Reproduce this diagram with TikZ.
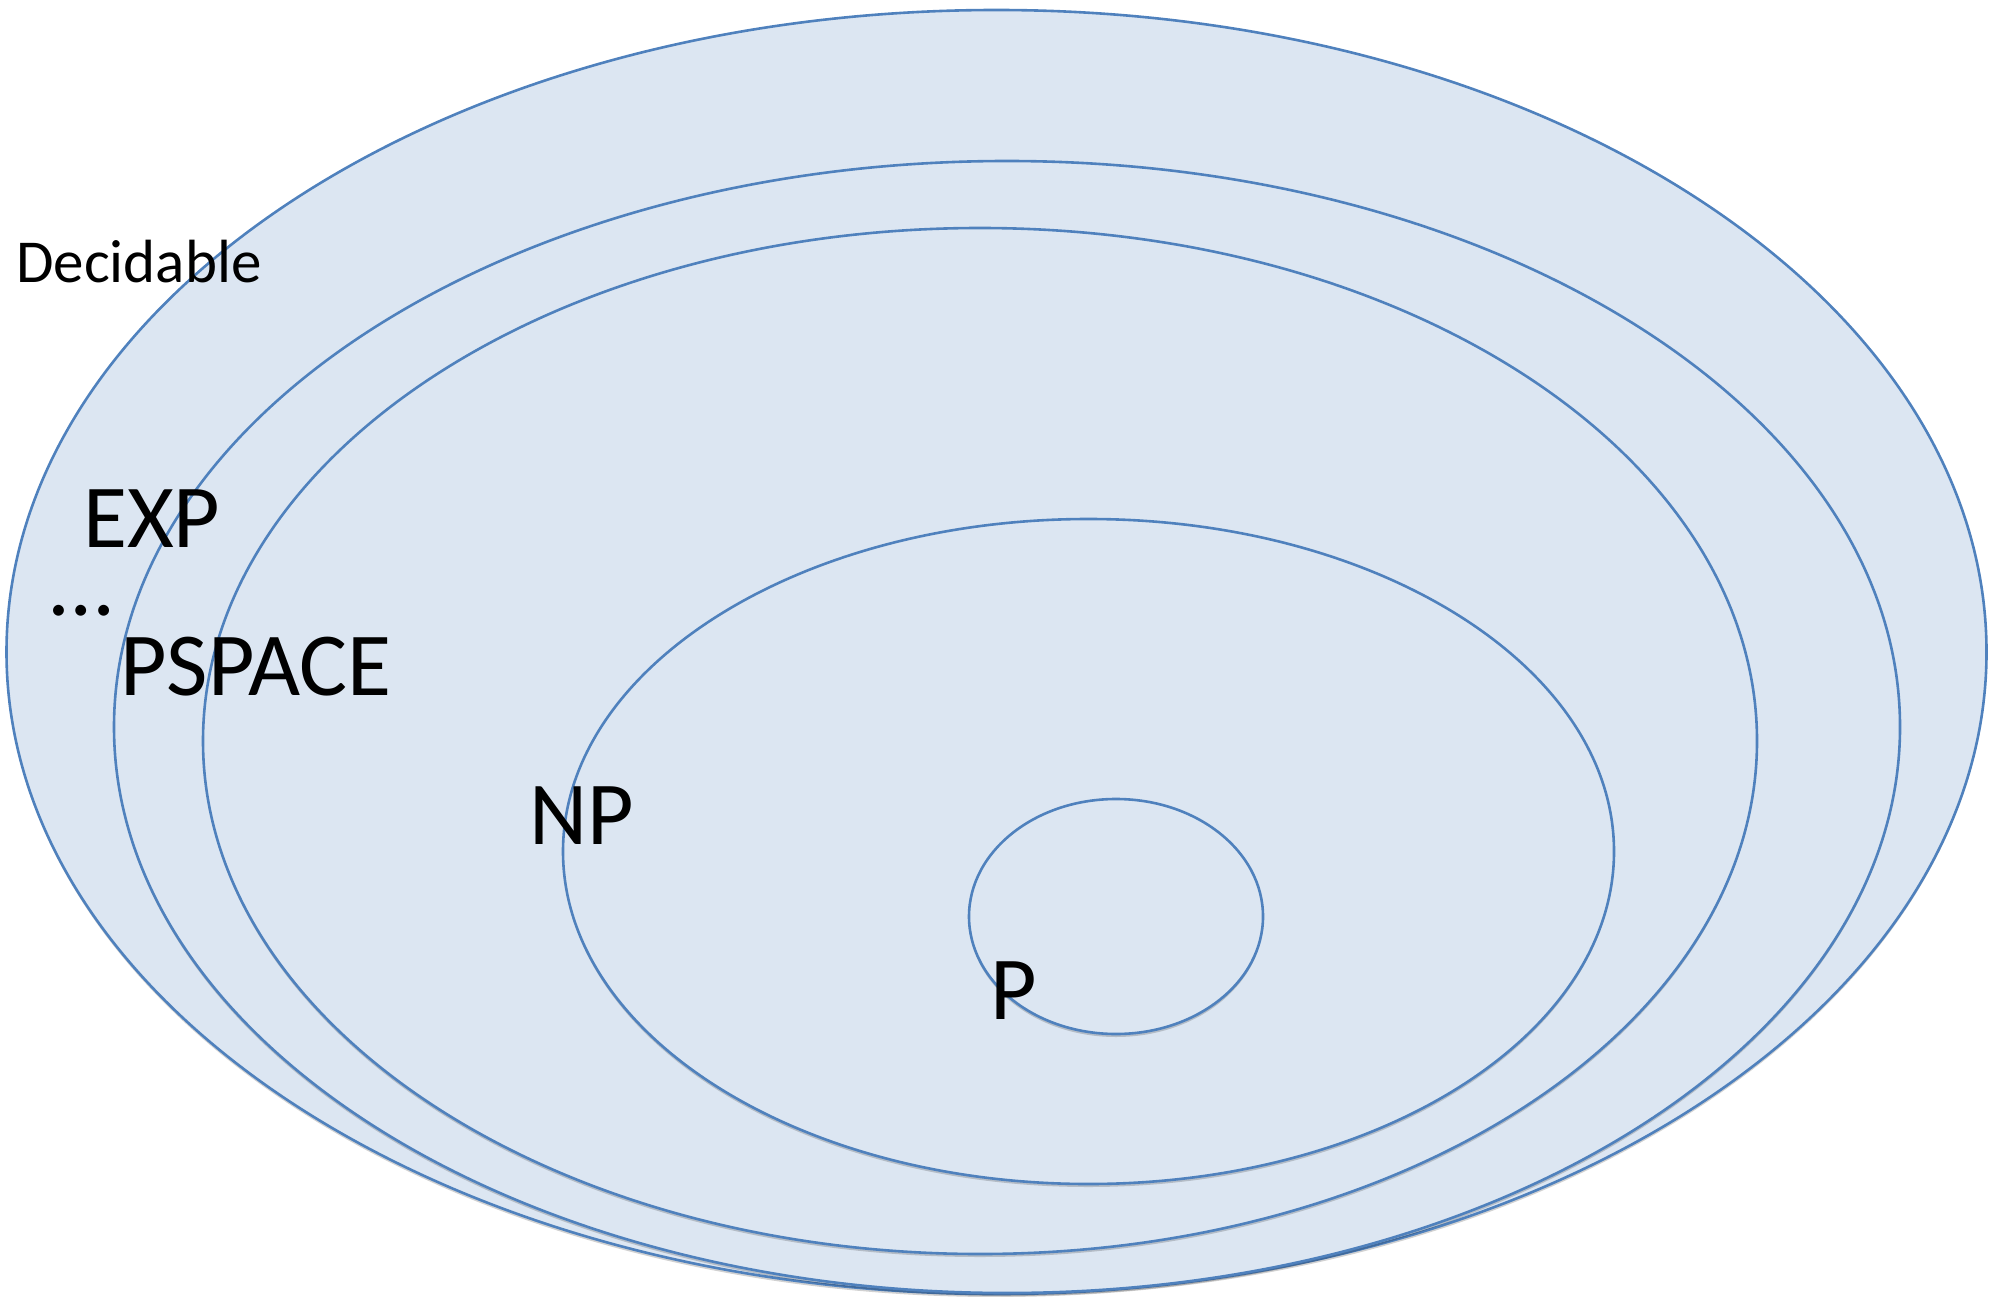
\documentclass[tikz,border=0pt]{standalone}
\usepackage{fontspec}
\setmainfont{Carlito}
\usetikzlibrary{shapes.geometric,shadows}
\definecolor{setfill}{HTML}{DCE6F2}
\definecolor{setline}{HTML}{4F81BD}
\begin{document}
\begin{tikzpicture}[x=1pt,y=-1pt,
  setshape/.style={ellipse, draw=setline, fill=setfill, line width=2.6pt, inner sep=0pt,
    drop shadow={shadow xshift=0pt, shadow yshift=-3pt, opacity=0.18, fill=black}},
  biglabel/.style={anchor=base west, inner sep=0pt, font=\fontsize{90}{100}\selectfont},
  smalllabel/.style={anchor=base west, inner sep=0pt, font=\fontsize{61}{70}\selectfont}]
\useasboundingbox (0,0) rectangle (2001,1297);
\node[setshape, minimum width=1980pt, minimum height=1284pt] (dec) at (996.5,652) {};
\node[setshape, minimum width=1786pt, minimum height=1132pt] (exp) at (1007,727) {};
\node[setshape, minimum width=1554pt, minimum height=1026pt] (pspace) at (980,741) {};
\node[setshape, minimum width=1051pt, minimum height=665pt] (np) at (1088.5,851.5) {};
\node[setshape, minimum width=294pt, minimum height=235pt] (p) at (1116,916.5) {};
\node[smalllabel] (tdec) at (16,283) {Decidable};
\node[biglabel] (texp) at (83,547) {EXP};
\node[biglabel] (tdots) at (50,615) {…};
\node[biglabel] (tpspace) at (120,695) {PSPACE};
\node[biglabel] (tnp) at (529,844) {NP};
\node[biglabel] (tp) at (990,1019) {P};
\end{tikzpicture}
\end{document}
